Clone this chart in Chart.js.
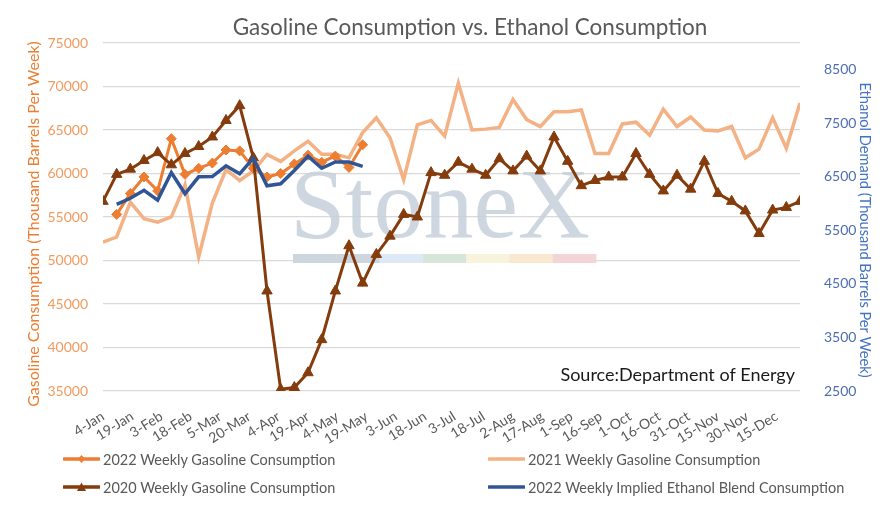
<!DOCTYPE html>
<html>
<head>
<meta charset="utf-8">
<script src="https://cdn.jsdelivr.net/npm/chart.js@4.4.1/dist/chart.umd.min.js"></script>
<style>
  body { margin: 0; background: #fff; }
  #wrap { position: relative; width: 890px; height: 522px; }
  .lg { position: absolute; font-family: 'Lato', sans-serif; font-size: 14.5px; color: #595959; white-space: nowrap; display: flex; align-items: center; height: 18px; }
  .lg svg { margin-right: 3px; }
</style>
</head>
<body>
<div id="wrap">
  <canvas id="chart" width="890" height="522"></canvas>
  <div class="lg" style="left:63px;top:450px"><svg width="37" height="14"><line x1="1" y1="7" x2="36" y2="7" stroke="#ED7D31" stroke-width="3.5" stroke-linecap="round"/><polygon points="18.5,3 22,7 18.5,11 15,7" fill="#ED7D31"/></svg>2022 Weekly Gasoline Consumption</div>
  <div class="lg" style="left:488px;top:450px"><svg width="37" height="14"><line x1="1" y1="7" x2="36" y2="7" stroke="#F4B183" stroke-width="3.5" stroke-linecap="round"/></svg>2021 Weekly Gasoline Consumption</div>
  <div class="lg" style="left:63px;top:478px"><svg width="37" height="14"><line x1="1" y1="7" x2="36" y2="7" stroke="#843C0C" stroke-width="3.5" stroke-linecap="round"/><polygon points="18.5,2.5 23,11 14,11" fill="#843C0C"/></svg>2020 Weekly Gasoline Consumption</div>
  <div class="lg" style="left:488px;top:478px"><svg width="37" height="14"><line x1="1" y1="7" x2="36" y2="7" stroke="#2F5597" stroke-width="3.5" stroke-linecap="round"/></svg>2022 Weekly Implied Ethanol Blend Consumption</div>
</div>
<script>
// x tick labels (every 15 days) and the first week of the series
var xTickLabels = ['4-Jan', '19-Jan', '3-Feb', '18-Feb', '5-Mar', '20-Mar', '4-Apr', '19-Apr', '4-May', '19-May',
  '3-Jun', '18-Jun', '3-Jul', '18-Jul', '2-Aug', '17-Aug', '1-Sep', '16-Sep', '1-Oct', '16-Oct', '31-Oct',
  '15-Nov', '30-Nov', '15-Dec'];
var firstWeek = '4-Jan';
var weekCount = 52;

// right axis tick labels
var ethanolTicks = [2500, 3500, 4500, 5500, 6500, 7500, 8500];

// weekly gasoline consumption, thousand barrels per week
var gas2020 = [56800, 59900, 60500, 61500, 62400, 61000, 62300, 63100, 64200, 66100, 67800, 61800, 46500,
  35200, 35400, 37100, 40900, 46500, 51700, 47400, 50700, 52800, 55300, 55000, 60100, 59800, 61300, 60500,
  59800, 61700, 60300, 62000, 60300, 64200, 61400, 58600, 59200, 59600, 59600, 62300, 59900, 58000, 59800,
  58200, 61400, 57700, 56800, 55700, 53100, 55800, 56100, 56800];
var gas2021 = [52100, 52700, 56700, 54800, 54400, 55000, 58700, 50400, 56600, 60450, 59200, 60300, 62200,
  61400, 62600, 63700, 62200, 62200, 61800, 64700, 66400, 64100, 59300, 65600, 66100, 64300, 70400, 65000,
  65100, 65300, 68500, 66200, 65400, 67100, 67100, 67300, 62300, 62300, 65700, 65900, 64400, 67400, 65400,
  66500, 65000, 64900, 65400, 61800, 62800, 66400, 62900, 68100];
// 2022 starts one week later
var gas2022 = [null, 55300, 57700, 59600, 58000, 64000, 59900, 60600, 61200, 62700, 62600, 60600, 59600,
  60000, 61100, 62100, 61300, 62000, 60700, 63300];
var ethanol2022 = [null, 5985, 6100, 6250, 6065, 6580, 6183, 6500, 6505, 6706, 6556, 6850, 6332, 6370,
  6620, 6886, 6661, 6777, 6777, 6697];

var monthStart = { Jan: 0, Feb: 31, Mar: 59, Apr: 90, May: 120, Jun: 151, Jul: 181, Aug: 212, Sep: 243, Oct: 273, Nov: 304, Dec: 334 };
function dayOfYear(label) {
  var p = label.split('-');
  return monthStart[p[1]] + parseInt(p[0], 10);
}
var tickDays = xTickLabels.map(dayOfYear);
var weekDays = [];
for (var w = 0; w < weekCount; w++) weekDays.push(dayOfYear(firstWeek) + 7 * w);

function toPoints(values) {
  var pts = [];
  values.forEach(function (v, i) {
    if (v !== null) pts.push({ x: weekDays[i], y: v });
  });
  return pts;
}

Chart.defaults.font.family = 'Lato';
Chart.defaults.color = '#595959';

function rotatedText(ctx, text, x, y, angle) {
  ctx.save();
  ctx.translate(x, y);
  ctx.rotate(angle);
  ctx.fillText(text, 0, 0);
  ctx.restore();
}

var decor = {
  id: 'decor',
  beforeDatasetsDraw: function (chart) {
    var ctx = chart.ctx;
    ctx.save();
    ctx.font = '100px "Liberation Serif"';
    ctx.fillStyle = 'rgba(198, 207, 218, 0.85)';
    ctx.textAlign = 'left';
    ctx.textBaseline = 'alphabetic';
    ctx.fillText('StoneX', 290, 237);
    var bar = ['#cdd5de', '#cdd5de', '#dde9f4', '#d6e6d8', '#f7f3dc', '#f9e7d0', '#f3d5d8'];
    bar.forEach(function (c, i) {
      ctx.fillStyle = c;
      ctx.fillRect(293 + i * 43.3, 254, 43.6, 9);
    });
    ctx.restore();
  },
  afterDraw: function (chart) {
    var ctx = chart.ctx;
    ctx.save();
    ctx.fillStyle = '#595959';
    ctx.font = '22.5px Lato';
    ctx.textAlign = 'center';
    ctx.textBaseline = 'middle';
    ctx.fillText('Gasoline Consumption vs. Ethanol Consumption', 470, 28);

    // axis titles
    ctx.fillStyle = '#ED7D31';
    ctx.font = '16px Lato';
    rotatedText(ctx, 'Gasoline Consumption (Thousand Barrels Per Week)', 34, 224, -Math.PI / 2);
    ctx.fillStyle = '#4472C4';
    ctx.font = '14.6px Lato';
    rotatedText(ctx, 'Ethanol Demand (Thousand Barrels Per Week)', 865, 230, Math.PI / 2);

    ctx.fillStyle = '#1a1a1a';
    ctx.font = '18px Lato';
    ctx.textAlign = 'right';
    ctx.fillText('Source:Department of Energy', 795, 375);
    ctx.restore();
  }
};

var ctx = document.getElementById('chart').getContext('2d');
var myChart = new Chart(ctx, {
  type: 'line',
  data: {
    datasets: [
      {
        label: '2022 Weekly Implied Ethanol Blend Consumption',
        data: toPoints(ethanol2022),
        yAxisID: 'y1',
        borderColor: '#2F5597',
        borderWidth: 3.5,
        pointRadius: 0,
        order: 1
      },
      {
        label: '2020 Weekly Gasoline Consumption',
        data: toPoints(gas2020),
        yAxisID: 'y',
        borderColor: '#843C0C',
        backgroundColor: '#843C0C',
        borderWidth: 3,
        pointStyle: 'triangle',
        pointRadius: 6,
        pointBorderWidth: 1,
        order: 2
      },
      {
        label: '2022 Weekly Gasoline Consumption',
        data: toPoints(gas2022),
        yAxisID: 'y',
        borderColor: '#ED7D31',
        backgroundColor: '#ED7D31',
        borderWidth: 3,
        pointStyle: 'rectRot',
        pointRadius: 5,
        pointBorderWidth: 1,
        order: 3
      },
      {
        label: '2021 Weekly Gasoline Consumption',
        data: toPoints(gas2021),
        yAxisID: 'y',
        borderColor: '#F4B183',
        borderWidth: 3.5,
        pointRadius: 0,
        order: 4
      }
    ]
  },
  options: {
    responsive: false,
    animation: false,
    layout: { padding: { top: 43, left: 0, right: 0, bottom: 0 } },
    plugins: {
      legend: { display: false },
      tooltip: { enabled: false }
    },
    scales: {
      x: {
        type: 'linear',
        min: weekDays[0],
        max: weekDays[weekDays.length - 1],
        grid: { display: false },
        border: { display: false },
        afterBuildTicks: function (scale) {
          scale.ticks = tickDays.map(function (d) { return { value: d }; });
        },
        afterFit: function (scale) { scale.height = 131; },
        ticks: {
          autoSkip: false,
          maxRotation: 32,
          minRotation: 32,
          padding: 9,
          color: '#595959',
          font: { size: 14 },
          callback: function (value) {
            var i = tickDays.indexOf(value);
            return i >= 0 ? xTickLabels[i] : '';
          }
        }
      },
      y: {
        position: 'left',
        min: 35000,
        max: 75000,
        grid: { color: '#D9D9D9', lineWidth: 1.3, drawTicks: false },
        border: { display: false },
        afterFit: function (scale) { scale.width = 103; },
        ticks: {
          stepSize: 5000,
          padding: 15,
          color: '#F19A5F',
          font: { size: 14 },
          callback: function (v) { return v; }
        }
      },
      y1: {
        position: 'right',
        min: 2500,
        max: 9000,
        grid: { display: false },
        border: { display: false },
        afterFit: function (scale) { scale.width = 90; },
        afterBuildTicks: function (scale) {
          scale.ticks = ethanolTicks.map(function (v) { return { value: v }; });
        },
        ticks: {
          padding: 16,
          color: '#4C6FB0',
          font: { size: 14 },
          callback: function (v) { return v; }
        }
      }
    }
  },
  plugins: [decor]
});
</script>
</body>
</html>
